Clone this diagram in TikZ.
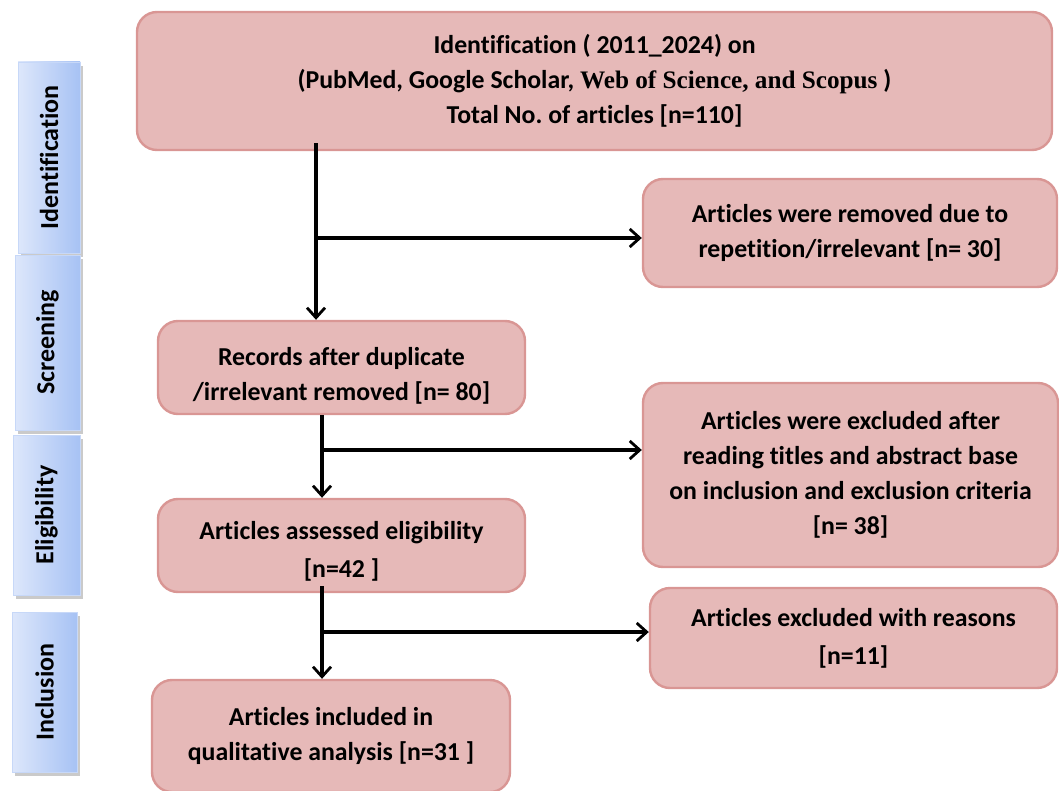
\documentclass[tikz,border=0pt]{standalone}
\usepackage{fontspec}
\setmainfont[Ligatures=NoCommon]{Carlito}
\newfontfamily\serifpart{Liberation Serif}
\usetikzlibrary{arrows.meta, calc, shadows}
\frenchspacing

\definecolor{boxfill}{HTML}{E6B9B8}
\definecolor{boxline}{HTML}{D99694}
\definecolor{stageL}{HTML}{DDE7FB}
\definecolor{stageR}{HTML}{A7C2F4}

\tikzset{
    flowbox/.style={draw=boxline, line width=1.2pt, fill=boxfill, rounded corners=10pt,
        align=center, font=\bfseries\fontsize{12.9}{17.5}\selectfont, inner sep=2pt},
    stagebox/.style={left color=stageL, right color=stageR, draw=stageL!60!stageR, line width=0.3pt,
        drop shadow={shadow xshift=1.5pt, shadow yshift=-2pt, fill=black!35, opacity=0.6},
        font=\bfseries\fontsize{13}{15}\selectfont, inner sep=0pt},
    flowline/.style={line width=1.6pt, black},
    flowarrow/.style={flowline, -{Straight Barb[length=5pt, width=9pt, line width=1.4pt]}}
}

\begin{document}
\begin{tikzpicture}[x=0.5pt, y=-0.5pt] % 1 unit = 1 px of the 1059 x 791 frame

    % === FRAME ===
    \clip (0,0) rectangle (1059,791);
    \useasboundingbox (0,0) rectangle (1059,791);

    % === 1. STAGE LABELS (left column) ===
    \node[stagebox, minimum width=31pt, minimum height=95.5pt] (stageId)    at (49,157.5) {\rotatebox{90}{Identification}};
    \node[stagebox, minimum width=32.5pt, minimum height=87.5pt] (stageScr) at (47.5,342.5) {\rotatebox{90}{Screening}};
    \node[stagebox, minimum width=33.5pt, minimum height=80pt] (stageElig)  at (46.5,515) {\rotatebox{90}{Eligibility}};
    \node[stagebox, minimum width=32.5pt, minimum height=80pt] (stageIncl)  at (44.5,692) {\rotatebox{90}{Inclusion}};

    % === 2. MAIN COLUMN BOXES ===
    \node[flowbox, minimum width=457.5pt, minimum height=69pt] (ident) at (594.5,81)
        {Identification ( 2011\_2024) on\\
         (PubMed, Google Scholar, {\serifpart\fontsize{12.6}{17}\selectfont Web of Science, and Scopus} )\\
         Total No.\ of articles {[}n=110{]}};
    \node[flowbox, minimum width=183.5pt, minimum height=46.5pt] (records) at (341.5,367.5)
        {\rule{0pt}{17pt}Records after duplicate\\ /irrelevant removed {[}n= 80{]}};
    \node[flowbox, minimum width=183.5pt, minimum height=46.5pt] (assessed) at (341.5,545.5)
        {\rule{0pt}{15pt}Articles assessed eligibility\\[1.5pt] {[}n=42 {]}};
    \node[flowbox, minimum width=179pt, minimum height=56pt] (included) at (331,736)
        {Articles included in\\ qualitative analysis {[}n=31 {]}};

    % === 3. SIDE BOXES (removed / excluded) ===
    \node[flowbox, minimum width=207pt, minimum height=54pt] (removed) at (850,233)
        {Articles were removed due to\\ repetition/irrelevant {[}n= 30{]}};
    \node[flowbox, minimum width=207.5pt, minimum height=92pt] (excluded) at (850.5,475)
        {Articles were excluded after\\ reading titles and abstract base\\ on inclusion and exclusion criteria\\ {[}n= 38{]}};
    \node[flowbox, minimum width=203.5pt, minimum height=50pt] (reasons) at (853.5,638)
        {Articles excluded with reasons\\[1.5pt] {[}n=11{]}};

    % === 4. CONNECTORS ===
    % trunk positions
    \coordinate (trunkA) at (316,0);
    \coordinate (trunkB) at (322,0);

    % identification -> records, branch to removed
    \draw[flowarrow] ($(ident.south -| trunkA)+(0,-8)$) -- (records.north -| trunkA);
    \draw[flowarrow] ($(trunkA |- removed.west)+(0,5)$) -- ($(removed.west)+(0,5)$);

    % records -> assessed, branch to excluded
    \draw[flowarrow] (records.south -| trunkB) -- (assessed.north -| trunkB);
    \draw[flowarrow] ($(trunkB |- excluded.west)+(0,-25)$) -- ($(excluded.west)+(0,-25)$);

    % assessed -> included, branch to reasons
    \draw[flowarrow] ($(assessed.south -| trunkB)+(0,-7)$) -- (included.north -| trunkB);
    \draw[flowarrow] ($(trunkB |- reasons.west)+(0,-6)$) -- ($(reasons.west)+(0,-6)$);

\end{tikzpicture}
\end{document}
